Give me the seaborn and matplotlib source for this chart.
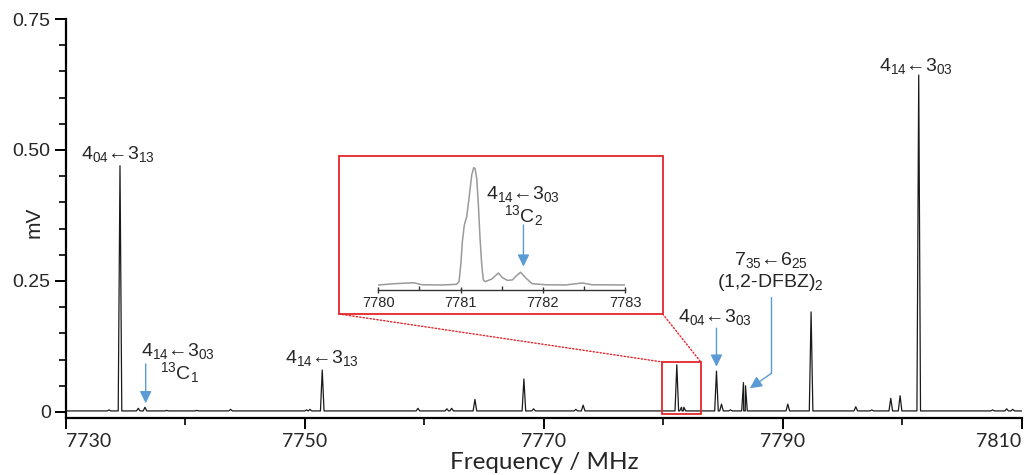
import numpy as np
import pandas as pd
import seaborn as sns
import matplotlib.pyplot as plt
from matplotlib.patches import Rectangle, ConnectionPatch
from matplotlib.ticker import MultipleLocator

# Peak list (frequency in MHz, intensity in mV)
peak_freq = [7733.60, 7734.52, 7736.05, 7736.61, 7738.43, 7740.94, 7743.78, 7750.14,
             7750.42, 7751.45, 7759.46, 7761.88, 7762.28, 7764.23, 7768.33, 7769.14,
             7772.68, 7773.29, 7781.13, 7781.52, 7781.72, 7784.45, 7784.87, 7785.62,
             7786.71, 7786.88, 7790.42, 7792.37, 7796.11, 7797.45, 7799.04, 7799.82,
             7801.38, 7807.57, 7808.74, 7809.25]
peak_mv = [0.004, 0.470, 0.007, 0.009, 0.003, 0.003, 0.005, 0.004,
           0.005, 0.080, 0.007, 0.006, 0.007, 0.024, 0.063, 0.006,
           0.005, 0.013, 0.090, 0.009, 0.009, 0.078, 0.015, 0.004,
           0.056, 0.050, 0.015, 0.191, 0.010, 0.004, 0.026, 0.031,
           0.643, 0.004, 0.006, 0.005]
baseline_mv = 0.002
half_width = 0.15

# Zoomed trace of the 7780-7783 MHz region (inset)
inset_freq = [7780.00, 7780.20, 7780.43, 7780.53, 7780.77, 7780.95, 7780.982, 7781.006,
              7781.022, 7781.046, 7781.075, 7781.103, 7781.136, 7781.160, 7781.176,
              7781.197, 7781.217, 7781.237, 7781.258, 7781.277, 7781.30, 7781.38,
              7781.46, 7781.51, 7781.57, 7781.63, 7781.68, 7781.73, 7781.79, 7781.87,
              7782.03, 7782.27, 7782.48, 7782.60, 7783.00]
inset_mv = [0.0, 0.0010, 0.0017, 0.0002, 0.0, 0.0005, 0.0025, 0.0175,
            0.0326, 0.0451, 0.0514, 0.0652, 0.0827, 0.0882, 0.0878,
            0.0802, 0.0602, 0.0351, 0.0150, 0.0038, 0.0025, 0.0045,
            0.0090, 0.0055, 0.0035, 0.0038, 0.0070, 0.0096, 0.0055, 0.0010,
            0.0002, 0.0, 0.0015, 0.0002, 0.0]

x_ticks = [7730, 7750, 7770, 7790, 7810]
y_ticks = [0, 0.25, 0.50, 0.75]
y_ticklabels = ['0', '0.25', '0.50', '0.75']
inset_ticks = [7780, 7781, 7782, 7783]

# stick spectrum: each peak as a narrow line shape on the baseline
xs, ys = [7730, 7810], [baseline_mv, baseline_mv]
for f, h in zip(peak_freq, peak_mv):
    xs += [f - half_width, f, f + half_width]
    ys += [baseline_mv, h, baseline_mv]
spec = pd.DataFrame({'freq': xs, 'mv': ys})
zoom = pd.DataFrame({'freq': inset_freq, 'mv': inset_mv})

sns.set_style('ticks')
plt.rcParams['font.family'] = ['Liberation Sans', 'DejaVu Sans']
plt.rcParams['mathtext.fontset'] = 'custom'
plt.rcParams['mathtext.rm'] = 'Liberation Sans'
plt.rcParams['mathtext.it'] = 'Liberation Sans:italic'

fig = plt.figure(figsize=(10.26, 4.75), dpi=100)
ax = fig.add_axes([66 / 1026, 57 / 475, 955.7 / 1026, 399 / 475])

sns.lineplot(data=spec, x='freq', y='mv', ax=ax, sort=True, estimator=None,
             color='#1a1a1a', lw=0.9)

ax.set_xlim(7730, 7810)
ax.set_ylim(-0.0115, 0.75)
ax.set_xticks(x_ticks)
ax.xaxis.set_minor_locator(MultipleLocator(10))
ax.set_yticks(y_ticks)
ax.set_yticklabels(y_ticklabels)
ax.yaxis.set_minor_locator(MultipleLocator(0.05))
for s in ['top', 'right']:
    ax.spines[s].set_visible(False)
for s in ['left', 'bottom']:
    ax.spines[s].set_linewidth(1.6)
    ax.spines[s].set_color('black')
ax.tick_params(which='major', length=8, width=1.4, color='black')
ax.tick_params(which='minor', length=5, width=1.2, color='black')
ax.tick_params(axis='y', labelsize=14, pad=3)
ax.tick_params(axis='x', labelsize=14, pad=3)
xl = ax.get_xticklabels()
for lab in xl:
    lab.set_family('Lato')
xl[0].set_horizontalalignment('left')
xl[-1].set_horizontalalignment('right')
ax.set_xlabel('Frequency / MHz', fontsize=17.5, family='Lato', labelpad=1)
ax.set_ylabel('mV', fontsize=15)
ax.yaxis.set_label_coords(-0.024, 0.49)

blue = '#5b9bd5'
red = '#e3262b'
arrow = dict(arrowstyle='-|>,head_length=0.45,head_width=0.22', color=blue,
             lw=1.0, mutation_scale=16, shrinkA=0, shrinkB=0)
tk = dict(fontsize=14, ha='center', va='center')

ax.text(7734.31, 0.492, '4$_{04}$←3$_{13}$', **tk)
ax.text(7739.37, 0.117, '4$_{14}$←3$_{03}$', **tk)
ax.text(7739.46, 0.0744, '$^{13}$C$_{1}$', **tk)
ax.annotate('', xy=(7736.67, 0.0166), xytext=(7736.67, 0.0916), arrowprops=arrow)
ax.text(7751.40, 0.1025, '4$_{14}$←3$_{13}$', **tk)
ax.text(7784.31, 0.1818, '4$_{04}$←3$_{03}$', **tk)
ax.annotate('', xy=(7784.45, 0.0864), xytext=(7784.45, 0.160), arrowprops=arrow)
ax.text(7788.99, 0.290, '7$_{35}$←6$_{25}$', **tk)
ax.text(7788.97, 0.2467, '(1,2-DFBZ)$_{2}$', **tk)
ax.plot([7789.05, 7789.05], [0.220, 0.0738], color=blue, lw=1.0)
ax.annotate('', xy=(7787.24, 0.0452), xytext=(7789.05, 0.0738), arrowprops=arrow)
ax.text(7801.13, 0.660, '4$_{14}$←3$_{03}$', **tk)

# small red box marking the zoomed region
box_x0, box_x1 = 7779.93, 7783.14
box_y0, box_y1 = -0.003, 0.0954
ax.add_patch(Rectangle((box_x0, box_y0), box_x1 - box_x0, box_y1 - box_y0,
                       fill=False, edgecolor=red, lw=1.3, zorder=5))

# inset frame (figure coordinates) and inset axes
fx0, fx1 = 339 / 1026, 662.7 / 1026
fy0, fy1 = (475 - 314) / 475, (475 - 156) / 475
frame = Rectangle((fx0, fy0), fx1 - fx0, fy1 - fy0, transform=fig.transFigure,
                  fill=True, facecolor='white', edgecolor=red, lw=1.3, zorder=3)
fig.patches.append(frame)
for (fx, fy), (dx, dy) in [((fx0, fy0), (box_x0, box_y1)), ((fx1, fy0), (box_x1, box_y1))]:
    con = ConnectionPatch(xyA=(fx, fy), coordsA=fig.transFigure, xyB=(dx, dy), coordsB=ax.transData,
                          color=red, lw=1.0, ls=(0, (1, 1.5)))
    fig.add_artist(con)

axi = fig.add_axes([378.3 / 1026, 185 / 475, 246.7 / 1026, 130 / 475])
axi.set_zorder(4)
axi.patch.set_alpha(0)
sns.lineplot(data=zoom, x='freq', y='mv', ax=axi, sort=True, estimator=None,
             color='#9a9a9a', lw=1.1)
axi.set_xlim(7780, 7783)
axi.set_ylim(-0.00376, 0.094)
axi.set_xticks(inset_ticks)
axi.xaxis.set_minor_locator(MultipleLocator(0.5))
axi.set_yticks([])
axi.set_xlabel('')
axi.set_ylabel('')
for s in ['top', 'right', 'left']:
    axi.spines[s].set_visible(False)
axi.spines['bottom'].set_linewidth(1.0)
axi.spines['bottom'].set_color('#333333')
axi.tick_params(axis='x', which='major', direction='inout', length=5, width=1.0,
                labelsize=10.5, pad=2, color='#333333')
axi.tick_params(axis='x', which='minor', direction='in', length=3, width=1.0, color='#333333')
axi.text(7781.755, 0.0682, '4$_{14}$←3$_{03}$', **tk)
axi.text(7781.76, 0.0526, '$^{13}$C$_{2}$', **tk)
axi.annotate('', xy=(7781.765, 0.0138), xytext=(7781.765, 0.0451), arrowprops=arrow)

fig.savefig('out.png', dpi=100, facecolor='white')
